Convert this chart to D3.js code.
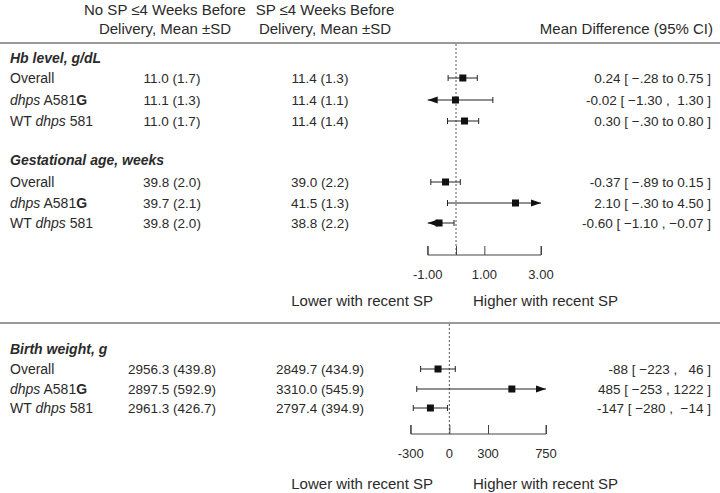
<!DOCTYPE html>
<html><head><meta charset="utf-8">
<script src="https://cdn.jsdelivr.net/npm/d3@7"></script>
<style>
body{margin:0;background:#fff;}
svg text{font-family:"Liberation Sans",Arial,sans-serif;fill:#2a2a2a;white-space:pre;}
</style></head>
<body><svg id="c" width="720" height="493"></svg>
<script>
// ---- data ----
const sections = ["Hb level, g/dL", "Gestational age, weeks", "Birth weight, g"];
const subgroups = [
  [{t:"Overall"}],
  [{t:"dhps",s:"i"},{t:" A581"},{t:"G",s:"b"}],
  [{t:"WT "},{t:"dhps",s:"i"},{t:" 581"}]
];
const noSP = [
  ["11.0 (1.7)","11.1 (1.3)","11.0 (1.7)"],
  ["39.8 (2.0)","39.7 (2.1)","39.8 (2.0)"],
  ["2956.3 (439.8)","2897.5 (592.9)","2961.3 (426.7)"]
];
const withSP = [
  ["11.4 (1.3)","11.4 (1.1)","11.4 (1.4)"],
  ["39.0 (2.2)","41.5 (1.3)","38.8 (2.2)"],
  ["2849.7 (434.9)","3310.0 (545.9)","2797.4 (394.9)"]
];
const hbMean = [0.24, -0.02, 0.30], hbLo = [-0.28, -1.30, -0.30], hbHi = [0.75, 1.30, 0.80];
const gaMean = [-0.37, 2.10, -0.60], gaLo = [-0.89, -0.30, -1.10], gaHi = [0.15, 4.50, -0.07];
const bwMean = [-88, 485, -147], bwLo = [-223, -253, -280], bwHi = [46, 1222, -14];
const ciText = [
  ["0.24 [ \u2212.28 to 0.75 ]","-0.02 [ \u22121.30 ,  1.30 ]","0.30 [ \u2212.30 to 0.80 ]"],
  ["-0.37 [ \u2212.89 to 0.15 ]","2.10 [ \u2212.30 to 4.50 ]","-0.60 [ \u22121.10 , \u22120.07 ]"],
  ["-88 [ \u2212223 ,   46 ]","485 [ \u2212253 , 1222 ]","-147 [ \u2212280 ,  \u221214 ]"]
];
const topTicks = [-1, 0, 1, 3], topTickLabels = ["-1.00", "", "1.00", "3.00"];
const botTicks = [-300, 0, 300, 750], botTickLabels = ["-300", "0", "300", "750"];

// ---- drawing ----
const svg = d3.select("#c");
const xTop = d3.scaleLinear().domain([-1, 3]).range([427.7, 541]);
const xBot = d3.scaleLinear().domain([-300, 750]).range([410.7, 546]);

function headerText(x, lines, anchor){
  const t = svg.append("text").attr("text-anchor", anchor).style("font-size","15px");
  lines.forEach((l,i)=>{
    t.append("tspan").attr("x", x).attr("y", i===0?15:34).text(l);
  });
}
headerText(165, ["No SP \u22644 Weeks Before","Delivery, Mean \u00b1SD"], "middle");
headerText(325, ["SP \u22644 Weeks Before","Delivery, Mean \u00b1SD"], "middle");
headerText(713, ["","Mean Difference (95% CI)"], "end");

svg.append("line").attr("x1",0).attr("x2",720).attr("y1",43).attr("y2",43)
  .attr("stroke","#777").attr("stroke-width",1.6);
svg.append("line").attr("x1",0).attr("x2",720).attr("y1",323).attr("y2",323)
  .attr("stroke","#777").attr("stroke-width",1.6);

const layout = [
  {head:58, rows:[78,100,121], x:xTop, mean:hbMean, lo:hbLo, hi:hbHi},
  {head:160, rows:[182,203,223], x:xTop, mean:gaMean, lo:gaLo, hi:gaHi},
  {head:349, rows:[369,389,408], x:xBot, mean:bwMean, lo:bwLo, hi:bwHi}
];

svg.append("line").attr("x1",xTop(0)).attr("x2",xTop(0)).attr("y1",44).attr("y2",255)
  .attr("stroke","#555").attr("stroke-dasharray","2,2").attr("stroke-width",1);
svg.append("line").attr("x1",xBot(0)).attr("x2",xBot(0)).attr("y1",324).attr("y2",434)
  .attr("stroke","#555").attr("stroke-dasharray","2,2").attr("stroke-width",1);

layout.forEach((L, si)=>{
  svg.append("text").attr("x",10).attr("y",L.head).attr("dy","0.35em")
    .style("font-size","14px").style("font-weight","bold").style("font-style","italic")
    .text(sections[si]);
  L.rows.forEach((y, ri)=>{
    const t = svg.append("text").attr("x",10).attr("y",y).attr("dy","0.35em").style("font-size","14px");
    subgroups[ri].forEach(p=>{
      const sp = t.append("tspan").text(p.t);
      if(p.s==="i") sp.style("font-style","italic");
      if(p.s==="b") sp.style("font-weight","bold");
    });
    svg.append("text").attr("x",172).attr("y",y).attr("dy","0.35em").attr("text-anchor","middle")
      .style("font-size","13.5px").text(noSP[si][ri]);
    svg.append("text").attr("x",320).attr("y",y).attr("dy","0.35em").attr("text-anchor","middle")
      .style("font-size","13.5px").text(withSP[si][ri]);
    svg.append("text").attr("x",711).attr("y",y).attr("dy","0.35em").attr("text-anchor","end")
      .style("font-size","13.5px").text(ciText[si][ri]);

    const x = L.x, [d0,d1] = x.domain();
    const lo = L.lo[ri], hi = L.hi[ri], m = L.mean[ri];
    const x0 = x(Math.max(lo,d0)), x1 = x(Math.min(hi,d1));
    svg.append("line").attr("x1",x0).attr("x2",x1).attr("y1",y).attr("y2",y)
      .attr("stroke","#222").attr("stroke-width",1);
    const cap = 3;
    if(lo>=d0) svg.append("line").attr("x1",x0).attr("x2",x0).attr("y1",y-cap).attr("y2",y+cap).attr("stroke","#222");
    else svg.append("path").attr("d",`M${x0},${y}L${x0+10},${y-3.5}L${x0+10},${y+3.5}Z`).attr("fill","#111");
    if(hi<=d1) svg.append("line").attr("x1",x1).attr("x2",x1).attr("y1",y-cap).attr("y2",y+cap).attr("stroke","#222");
    else svg.append("path").attr("d",`M${x1},${y}L${x1-10},${y-3.5}L${x1-10},${y+3.5}Z`).attr("fill","#111");
    svg.append("rect").attr("x",x(m)-3.5).attr("y",y-3.5).attr("width",7).attr("height",7).attr("fill","#111");
  });
});

function drawAxis(x, y, ticks, labels){
  const g = svg.append("g").attr("transform",`translate(0,${y})`);
  const ax = d3.axisTop(x).tickValues(ticks).tickSize(9).tickFormat("");
  g.call(ax);
  g.select(".domain").attr("d",`M${x.range()[0]},-9V0H${x.range()[1]}V-9`).attr("stroke","#444");
  g.selectAll(".tick line").attr("stroke","#444");
  ticks.forEach((v,i)=>{
    svg.append("text").attr("x",x(v)).attr("y",y+24).attr("text-anchor","middle")
      .style("font-size","13px").text(labels[i]);
  });
}
drawAxis(xTop, 255, topTicks, topTickLabels);
drawAxis(xBot, 434, botTicks, botTickLabels);

[306, 489].forEach(y=>{
  svg.append("text").attr("x",433).attr("y",y).attr("text-anchor","end").style("font-size","15px").text("Lower with recent SP");
  svg.append("text").attr("x",473).attr("y",y).attr("text-anchor","start").style("font-size","15px").text("Higher with recent SP");
});
</script></body></html>
